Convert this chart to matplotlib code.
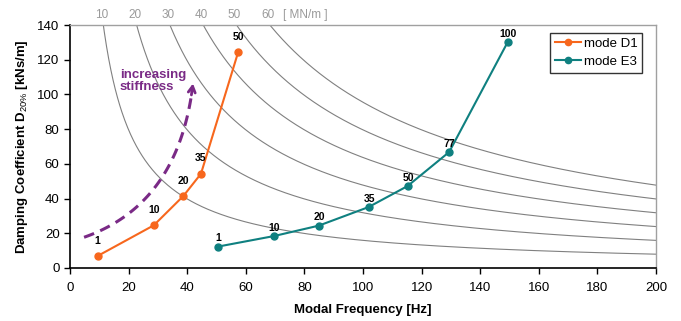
import numpy as np
import matplotlib
matplotlib.use("Agg")
import matplotlib.pyplot as plt

plt.rcParams['font.family'] = ['Liberation Sans', 'DejaVu Sans']
plt.rcParams['mathtext.fontset'] = 'custom'
plt.rcParams['mathtext.rm'] = 'Liberation Sans'
plt.rcParams['mathtext.bf'] = 'Liberation Sans:bold'

# Data
stiffness_MNm = [10, 20, 30, 40, 50, 60]
d1_freq = [9.4, 28.6, 38.7, 44.7, 57.4]
d1_damp = [6.9, 24.6, 41.5, 54.3, 124.4]
d1_labels = ['1', '10', '20', '35', '50']
e3_freq = [50.4, 69.6, 84.9, 101.9, 115.2, 129.4, 149.4]
e3_damp = [12.3, 18.4, 24.4, 35.1, 47.2, 66.8, 130.2]
e3_labels = ['1', '10', '20', '35', '50', '77', '100']

orange = '#F7671D'
teal = '#0F8080'
purple = '#7A2A86'
gray = '#808080'

fig = plt.figure(figsize=(6.81, 3.21), dpi=100)
ax = fig.add_axes([70/681, 1-268/321, (656-70)/681, (268-25)/321])

# iso-stiffness curves D = k / (2*pi*f)
f = np.linspace(1, 200, 800)
for k in stiffness_MNm:
    d = k * 1000 / (2 * np.pi * f)
    ax.plot(f, d, color=gray, lw=0.8, zorder=1)
    ftop = k * 1000 / (2 * np.pi * 140)
    ax.text(ftop - 0.7, 142.5, str(k), color='#9A9A9A', fontsize=8.5, ha='center', va='bottom', clip_on=False)
ax.text(72.8, 142.5, '[ MN/m ]', color='#9A9A9A', fontsize=8.5, ha='left', va='bottom', clip_on=False)

ax.plot(d1_freq, d1_damp, color=orange, marker='o', ms=5, lw=1.5, label='mode D1', zorder=3)
ax.plot(e3_freq, e3_damp, color=teal, marker='o', ms=5, lw=1.5, label='mode E3', zorder=3)
for x, y, s in zip(d1_freq, d1_damp, d1_labels):
    ax.annotate(s, (x, y), xytext=(0, 7.5), textcoords='offset points', ha='center', va='bottom',
                fontsize=7.5, fontweight='bold')
for x, y, s in zip(e3_freq, e3_damp, e3_labels):
    ax.annotate(s, (x, y), xytext=(0.5, 2.5), textcoords='offset points', ha='center', va='bottom',
                fontsize=7.5, fontweight='bold')

# increasing stiffness arrow
P0 = np.array([4.8, 17.7]); P1 = np.array([37.5, 37.0]); P2 = np.array([42.1, 107.9])
t = np.linspace(0, 1, 100)[:, None]
bez = (1-t)**2 * P0 + 2*(1-t)*t * P1 + t**2 * P2
ax.plot(bez[:-4, 0], bez[:-4, 1], color=purple, lw=2.2, dashes=(3.5, 2.2), zorder=2)
ax.annotate('', xy=P2, xytext=bez[-8], arrowprops=dict(arrowstyle='->,head_length=0.45,head_width=0.25',
            color=purple, lw=2.0), zorder=2)
ax.text(17.0, 107.5, 'increasing\nstiffness', color=purple, fontsize=9.5, fontweight='bold',
        ha='left', va='center', linespacing=1.0)

ax.set_xlim(0, 200)
ax.set_ylim(0, 140)
ax.set_xticks(np.arange(0, 201, 20))
ax.set_yticks(np.arange(0, 141, 20))
ax.tick_params(direction='out', length=4, width=1, labelsize=9.5, color='black')
ax.tick_params(axis='x', pad=6)
for s in ['left', 'bottom']:
    ax.spines[s].set_color('black'); ax.spines[s].set_linewidth(1.2)
for s in ['top', 'right']:
    ax.spines[s].set_color('#A0A0A0'); ax.spines[s].set_linewidth(1.0)

ax.set_xlabel('Modal Frequency [Hz]', fontsize=9.5, fontweight='bold', labelpad=7)
ax.set_ylabel(r'Damping Coefficient D$_{\mathrm{20\%}}$ [kNs/m]', fontsize=9.5, fontweight='bold', labelpad=5)

leg = ax.legend(loc='upper right', bbox_to_anchor=(0.9765, 0.967), fontsize=9.5, frameon=True, fancybox=False,
                edgecolor='black', handlelength=2.0, handletextpad=0.2, borderpad=0.35, labelspacing=0.45,
                borderaxespad=0)
leg.get_frame().set_linewidth(1.0)
for h in leg.legend_handles:
    h.set_markersize(4.5)

fig.savefig('out.png', dpi=100)
